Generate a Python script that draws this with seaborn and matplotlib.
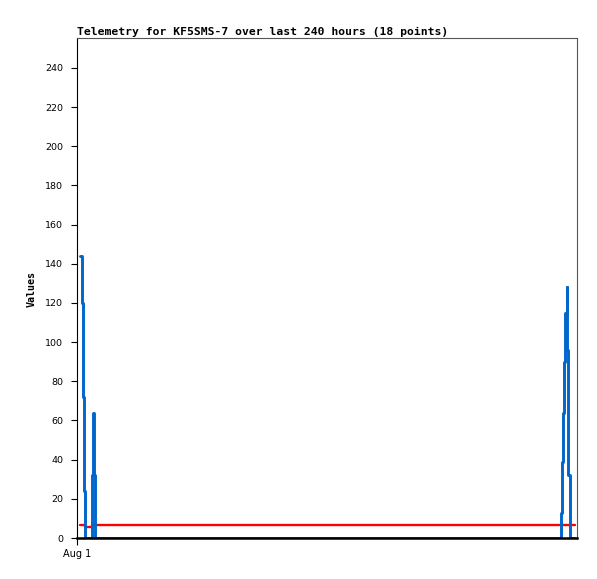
import matplotlib
matplotlib.use("Agg")
import matplotlib.pyplot as plt
import seaborn as sns
import pandas as pd

# ---- data ----
hours = [1.44, 2.16, 2.64, 3.12, 3.6, 7.3, 7.7, 8.2, 8.64,
         232.3, 232.8, 233.3, 233.8, 234.2, 235.0, 235.4, 235.9, 236.4, 239.2]
blue_values = [144, 120, 72, 24, 0, 32, 64, 32, 0,
               13, 39, 64, 90, 115, 128, 96, 32, 0, 0]
red_values = [6.6, 6.6, 6.6, 6.6, 5.8, 6.6, 6.6, 6.6, 6.6,
              6.6, 6.6, 6.6, 6.6, 6.6, 6.6, 6.6, 6.6, 6.6, 6.6]
x_tick_pos = [0]
x_tick_labels = ["Aug 1"]
y_ticks = list(range(0, 241, 20))
title = "Telemetry for KF5SMS-7 over last 240 hours (18 points)"
y_label = "Values"

df = pd.DataFrame({"hours": hours, "blue": blue_values, "red": red_values})

sns.set_style("white")
plt.rcParams["font.family"] = ["DejaVu Sans"]
plt.rcParams["text.color"] = "black"
plt.rcParams["axes.labelcolor"] = "black"
plt.rcParams["xtick.color"] = "black"
plt.rcParams["ytick.color"] = "black"

W, H = 597, 579
fig = plt.figure(figsize=(W / 100, H / 100), dpi=100)
ax = fig.add_axes([77 / W, 1 - 538 / H, 500 / W, 500 / H])

sns.lineplot(data=df, x="hours", y="red", ax=ax, color="#ff0000", linewidth=1.7,
             drawstyle="steps-post", estimator=None, sort=False, zorder=2)
sns.lineplot(data=df, x="hours", y="blue", ax=ax, color="#0066cc", linewidth=2.1,
             drawstyle="steps-post", estimator=None, sort=False, zorder=3)

ax.set_xlim(0, 240)
ax.set_ylim(0, 255.3)
ax.set_xticks(x_tick_pos)
ax.set_xticklabels(x_tick_labels)
ax.set_yticks(y_ticks)
ax.set_yticklabels([str(v) for v in y_ticks])
ax.set_xlabel("")
ax.set_ylabel("")

ax.tick_params(axis="y", direction="out", length=4, width=0.8, colors="black",
               labelsize=6.8, pad=6, left=True)
ax.tick_params(axis="x", direction="out", length=5, width=0.8, colors="black",
               labelsize=7, pad=3, bottom=True)

for side in ["top", "right"]:
    ax.spines[side].set_color("#555555")
    ax.spines[side].set_linewidth(0.8)
ax.spines["left"].set_color("black")
ax.spines["left"].set_linewidth(0.8)
ax.spines["bottom"].set_color("black")
ax.spines["bottom"].set_linewidth(1.8)
ax.spines["bottom"].set_zorder(5)
ax.grid(False)

fig.text(77 / W, 1 - 35 / H, title, fontsize=8.2, fontweight="bold",
         family="DejaVu Sans Mono", ha="left", va="baseline", color="black")
fig.text(32 / W, 1 - 289 / H, y_label, fontsize=7.2, fontweight="bold",
         family="DejaVu Sans Mono", ha="center", va="center", rotation=90,
         color="black")

fig.savefig("out.png", dpi=100, facecolor="white")
